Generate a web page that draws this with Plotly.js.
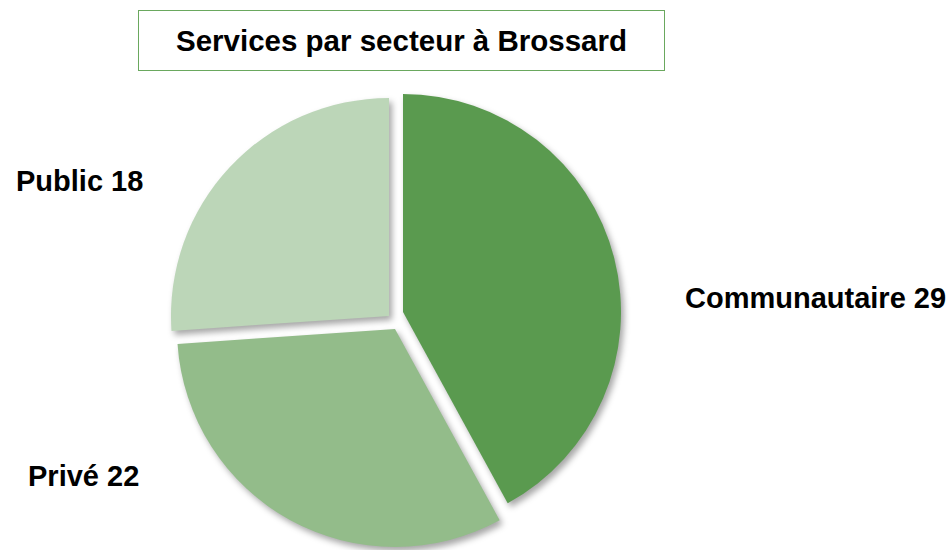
<!DOCTYPE html>
<html>
<head>
<meta charset="utf-8">
<script src="https://cdn.plot.ly/plotly-3.0.1.min.js"></script>
<style>
  body { margin: 0; background: #fff; }
  #graph1 { width: 952px; height: 550px; }
  /* soft shadow under the slices */
  .pielayer .slice path.surface { filter: drop-shadow(3px 4px 3px rgba(0,0,0,0.35)); }
</style>
</head>
<body>
<div id="graph1"></div>
<script>
let chartTitle = 'Services par secteur à Brossard';
let sectors = ['Communautaire', 'Privé', 'Public'];
let counts = [29, 22, 18];
let sliceColors = ['#5a9a4f', '#93bc8a', '#bcd6b8'];

// exploded slices: where each slice's tip sits (px), radius in px
let tipX = [403, 395, 389];
let tipY = [312, 329, 316];
let radius = 218;

// label spots in paper coords (x, y)
let labelX = [0.857, 0.088, 0.083];
let labelY = [0.458, 0.135, 0.671];

let labelFont = {family: 'Liberation Sans, Arial, sans-serif', size: 29, color: '#000'};

const W = 952, H = 550;

// one pie per slice so each can be offset like the original explosion
let traces = sectors.map((s, i) => ({
  type: 'pie',
  values: counts,
  labels: sectors,
  sort: false,
  direction: 'clockwise',
  rotation: 0,
  textinfo: 'none',
  hoverinfo: 'none',
  showlegend: false,
  marker: {
    colors: sliceColors.map((c, j) => j === i ? c : 'rgba(0,0,0,0)'),
    line: {width: 0}
  },
  domain: {
    x: [(tipX[i] - radius) / W, (tipX[i] + radius) / W],
    y: [(H - tipY[i] - radius) / H, (H - tipY[i] + radius) / H]
  }
}));

let notes = sectors.map((s, i) => ({
  text: '<b>' + s + ' ' + counts[i] + '</b>',
  xref: 'paper', yref: 'paper',
  x: labelX[i], y: labelY[i],
  xanchor: 'center', yanchor: 'middle',
  showarrow: false,
  font: labelFont
}));

notes.push({
  text: '<b>' + chartTitle + '</b>',
  xref: 'paper', yref: 'paper',
  x: 401.5 / W, y: 1 - 40.5 / H,
  xanchor: 'center', yanchor: 'middle',
  showarrow: false,
  width: 525, height: 59,
  bordercolor: '#6aa85e', borderwidth: 1, borderpad: 0,
  bgcolor: '#ffffff',
  font: {family: labelFont.family, size: 29.5, color: '#000'}
});

var layout = {
  width: W,
  height: H,
  margin: {l: 0, r: 0, t: 0, b: 0},
  paper_bgcolor: '#ffffff',
  showlegend: false,
  hovermode: false,
  annotations: notes
};

Plotly.newPlot('graph1', traces, layout, {displayModeBar: false, staticPlot: true});
</script>
</body>
</html>
